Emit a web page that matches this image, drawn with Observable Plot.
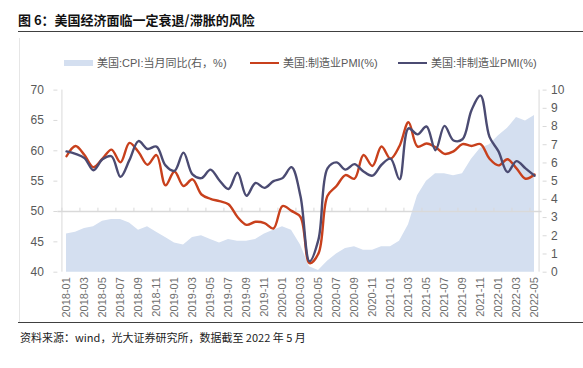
<!DOCTYPE html>
<html>
<head>
<meta charset="utf-8">
<script src="https://cdn.jsdelivr.net/npm/d3@7"></script>
<script src="https://cdn.jsdelivr.net/npm/@observablehq/plot@0.6"></script>
<style>
  html, body { margin: 0; padding: 0; background: #fff; }
  #wrap { position: relative; width: 583px; height: 368px; overflow: hidden; font-family: "Liberation Sans", "Noto Sans CJK SC", sans-serif; }
  #chart { position: absolute; left: 0; top: 0; }
  .abs { position: absolute; white-space: nowrap; }
  #title { left: 18px; top: 11px; font-family: "Noto Sans CJK SC", sans-serif; font-weight: bold; font-size: 13px; line-height: 18px; color: #111; }
  #titleLine { left: 18px; top: 31px; width: 565px; height: 1px; background: #404040; }
  #frameLine { left: 19px; top: 38px; width: 1px; height: 284px; background: #e6e6e6; }
  #capLine { left: 18px; top: 322px; width: 565px; height: 1px; background: #404040; }
  #caption { left: 20px; top: 329px; font-family: "Noto Sans CJK SC", sans-serif; font-size: 11px; line-height: 16px; color: #222; }
  .leg { top: 55px; font-family: "Liberation Sans", "Noto Sans CJK SC", sans-serif; font-size: 11px; line-height: 16px; color: #595959; }
  .sw { position: absolute; }
</style>
</head>
<body>
<div id="wrap">
  <div id="chart"></div>
  <div class="abs" id="frameLine"></div>
  <div class="abs" id="title"></div>
  <div class="abs" id="titleLine"></div>
  <div class="abs" id="legend"></div>
  <div class="abs" id="capLine"></div>
  <div class="abs" id="caption"></div>
</div>
<script>
const titleText = "图 6：美国经济面临一定衰退/滞胀的风险";
const captionText = "资料来源：wind，光大证券研究所，数据截至 2022 年 5 月";
const seriesNames = ["美国:CPI:当月同比(右，%)", "美国:制造业PMI(%)", "美国:非制造业PMI(%)"];
const seriesColors = ["#d4dff0", "#c8401c", "#4b4b72"];

const months = [
  "2018-01","2018-02","2018-03","2018-04","2018-05","2018-06","2018-07","2018-08","2018-09","2018-10","2018-11","2018-12",
  "2019-01","2019-02","2019-03","2019-04","2019-05","2019-06","2019-07","2019-08","2019-09","2019-10","2019-11","2019-12",
  "2020-01","2020-02","2020-03","2020-04","2020-05","2020-06","2020-07","2020-08","2020-09","2020-10","2020-11","2020-12",
  "2021-01","2021-02","2021-03","2021-04","2021-05","2021-06","2021-07","2021-08","2021-09","2021-10","2021-11","2021-12",
  "2022-01","2022-02","2022-03","2022-04","2022-05"
];
// 美国:制造业PMI(%)
const mfgPMI = [
  59.1,60.8,59.3,57.3,58.7,60.2,58.1,61.3,59.8,57.7,59.3,54.3,
  56.6,54.2,55.3,52.8,52.1,51.7,51.2,49.1,47.8,48.3,48.1,47.2,
  50.9,50.1,49.1,41.5,43.1,52.6,54.2,56.0,55.4,59.3,57.5,60.7,
  58.7,60.8,64.7,60.7,61.2,60.6,59.5,59.9,61.1,60.8,61.1,58.7,
  57.6,58.6,57.1,55.4,56.1
];
// 美国:非制造业PMI(%)
const svcPMI = [
  59.9,59.5,58.8,56.8,58.6,59.1,55.7,58.5,61.6,60.3,60.7,57.6,
  56.7,59.7,56.1,55.5,56.9,55.1,53.7,56.4,52.6,54.7,53.9,55.0,
  55.5,57.3,52.5,41.8,45.4,57.1,58.1,56.9,57.8,56.6,55.9,57.7,
  58.7,55.3,63.7,62.7,64.0,60.1,64.1,61.7,61.9,66.7,69.1,62.3,
  59.9,56.5,58.3,57.1,55.9
];
// 美国:CPI:当月同比(%), right axis
const cpiYoY = [
  2.1,2.2,2.4,2.5,2.8,2.9,2.9,2.7,2.3,2.5,2.2,1.9,
  1.6,1.5,1.9,2.0,1.8,1.6,1.8,1.7,1.7,1.8,2.1,2.3,
  2.5,2.3,1.5,0.3,0.1,0.6,1.0,1.3,1.4,1.2,1.2,1.4,
  1.4,1.7,2.6,4.2,5.0,5.4,5.4,5.3,5.4,6.2,6.8,7.0,
  7.5,7.9,8.5,8.3,8.6
];
const leftTicks = [40,45,50,55,60,65,70];
const rightTicks = [0,1,2,3,4,5,6,7,8,9,10];
const leftDomain = [40,70];
const rightDomain = [0,10];

// map right-axis values onto the left scale
const r2l = v => leftDomain[0] + (v - rightDomain[0]) * (leftDomain[1]-leftDomain[0]) / (rightDomain[1]-rightDomain[0]);
const l2r = v => rightDomain[0] + (v - leftDomain[0]) * (rightDomain[1]-rightDomain[0]) / (leftDomain[1]-leftDomain[0]);

const data = months.map((m, i) => ({m, mfg: mfgPMI[i], svc: svcPMI[i], cpi: cpiYoY[i]}));
const labelMonths = months.filter((d, i) => i % 2 === 0);

const W = 583, H = 368;
const mL = 57.4, mR = 41.4, mT = 89.6, mB = 96.3;
const step = (W - mL - mR) / months.length;
const gridC = "#d9d9d9", textC = "#595959";

const chart = Plot.plot({
  width: W, height: H,
  marginLeft: mL, marginRight: mR, marginTop: mT, marginBottom: mB,
  x: {type: "point", domain: months, padding: 0.5},
  y: {domain: leftDomain},
  style: {fontFamily: "'Liberation Sans', 'Noto Sans CJK SC', sans-serif", fontSize: "11px", color: textC, background: "transparent"},
  marks: [
    Plot.areaY(data, {x: "m", y1: leftDomain[0], y2: d => r2l(d.cpi), fill: seriesColors[0], curve: "linear"}),
    Plot.ruleY([50], {stroke: gridC, strokeWidth: 1.5}),
    Plot.ruleX(labelMonths, {x: d => d, y1: 50, y2: 50.55, dx: -step/2, stroke: gridC}),
    Plot.ruleX([months[0]], {x: d => d, y1: leftDomain[0], y2: leftDomain[1], dx: -step/2, stroke: gridC}),
    Plot.ruleX([months[months.length-1]], {x: d => d, y1: leftDomain[0], y2: leftDomain[1], dx: step/2, stroke: gridC}),
    Plot.lineY(data, {x: "m", y: "mfg", stroke: seriesColors[1], strokeWidth: 2.4, curve: "catmull-rom"}),
    Plot.lineY(data, {x: "m", y: "svc", stroke: seriesColors[2], strokeWidth: 2.4, curve: "catmull-rom"}),
    Plot.axisY({anchor: "left", ticks: leftTicks, tickSize: 4, tickPadding: 10, stroke: gridC, fill: textC, label: null, fontSize: 12}),
    Plot.axisY({anchor: "right", ticks: rightTicks.map(r2l), tickFormat: d => Math.round(l2r(d)), tickSize: 4, tickPadding: 5, stroke: gridC, fill: textC, label: null, fontSize: 12}),
    Plot.axisX({ticks: labelMonths, tickRotate: -90, tickSize: 0, tickPadding: 5, fill: "#6f6f6f", label: null, fontSize: 11})
  ]
});
document.getElementById("chart").appendChild(chart);

document.getElementById("title").textContent = titleText;
document.getElementById("caption").textContent = captionText;

// legend
const legend = document.getElementById("legend");
legend.style.left = "0px"; legend.style.top = "0px";
const legItems = [
  {x: 64, tx: 97, kind: "rect"},
  {x: 250, tx: 283, kind: "line"},
  {x: 398, tx: 431, kind: "line"}
];
legItems.forEach((it, i) => {
  const sw = document.createElement("div");
  sw.className = "sw";
  sw.style.left = it.x + "px";
  sw.style.width = "29px";
  if (it.kind === "rect") { sw.style.top = "60px"; sw.style.height = "6px"; }
  else { sw.style.top = "62px"; sw.style.height = "2.4px"; }
  sw.style.background = seriesColors[i];
  legend.appendChild(sw);
  const t = document.createElement("div");
  t.className = "abs leg";
  t.style.left = it.tx + "px";
  t.textContent = seriesNames[i];
  legend.appendChild(t);
});
</script>
</body>
</html>
